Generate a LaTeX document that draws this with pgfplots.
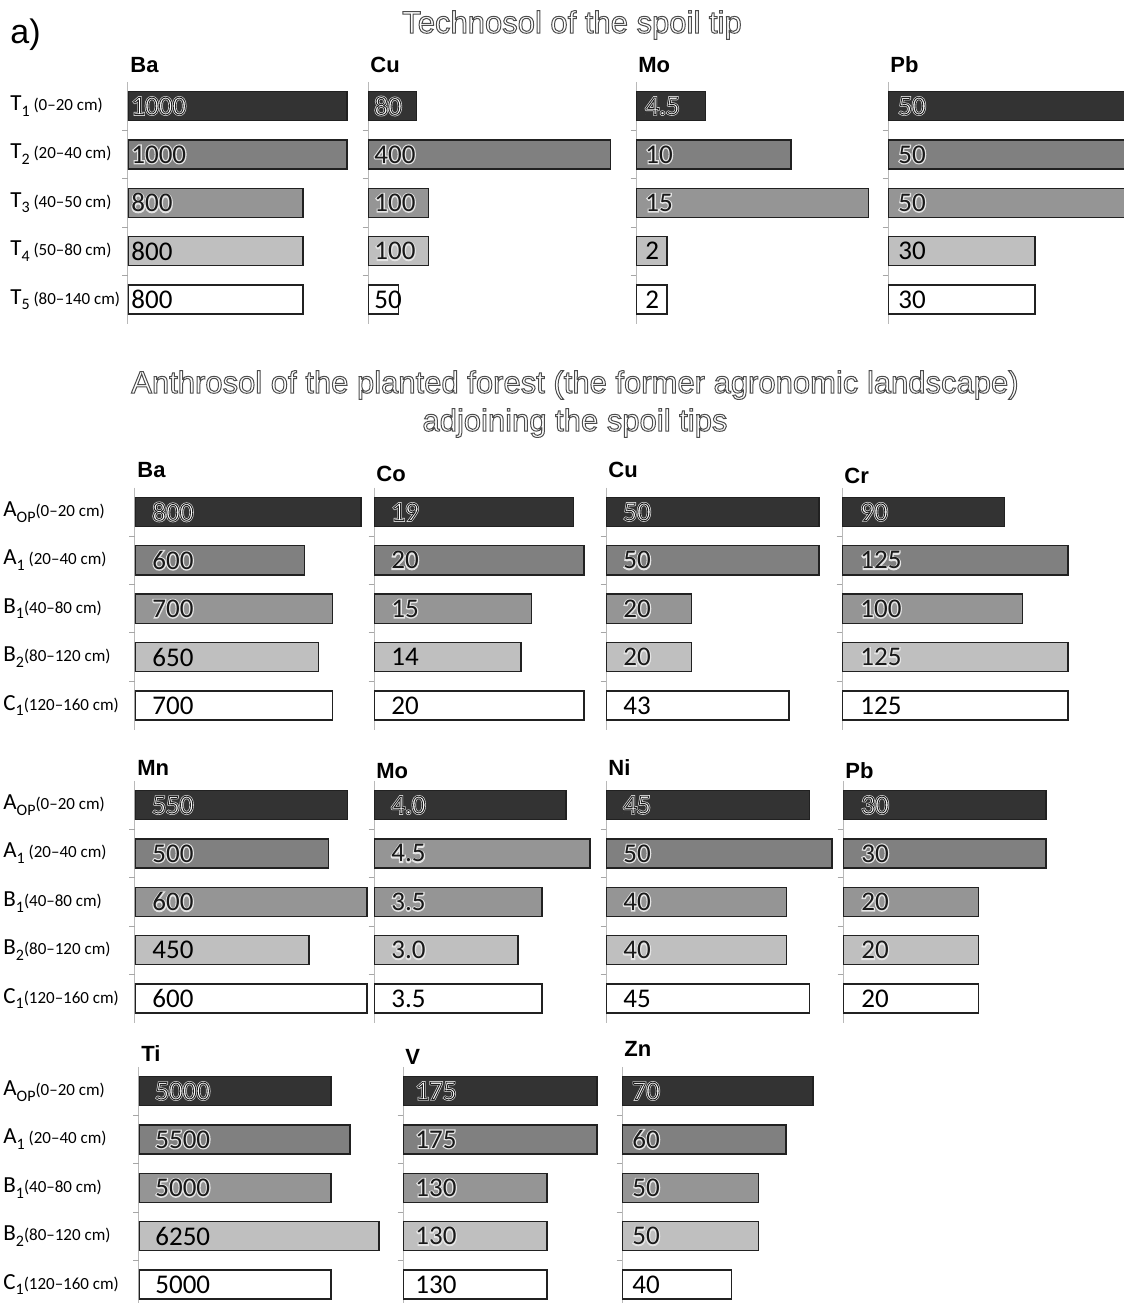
\documentclass[border=0pt]{standalone}
\usepackage{fontspec}
\setmainfont{Carlito}
\newfontfamily\arial{Liberation Sans}
\usepackage{pgfplots}
\pgfplotsset{compat=1.18}

\definecolor{c1}{gray}{0.2}
\definecolor{c2}{gray}{0.5}
\definecolor{c3}{gray}{0.585}
\definecolor{c4}{gray}{0.75}
\definecolor{c5}{gray}{1}
\definecolor{edge}{gray}{0.13}
\definecolor{halo}{gray}{0.88}
\definecolor{txt}{gray}{0.1}

\newcommand\outl[1]{\makebox[0pt][l]{\color{halo}\special{pdf:literal direct 2 Tr 1.1 w 0.88 G}#1\special{pdf:literal direct 0 Tr}}\special{pdf:literal direct 2 Tr 0.45 w 0.12 G}#1\special{pdf:literal direct 0 Tr}}
\newcommand\glow[1]{\makebox[0pt][l]{\color{halo}\special{pdf:literal direct 2 Tr 1.2 w 0.9 G}#1\special{pdf:literal direct 0 Tr}}#1}
\newcommand\outt[1]{\special{pdf:literal direct 2 Tr 0.5 w 0.3 G}#1\special{pdf:literal direct 0 Tr}}
\newcommand\lab[3]{{\fontsize{11.5}{12}\selectfont #1}\raisebox{-0.6ex}{\fontsize{8}{9}\selectfont #2}{\fontsize{8.5}{10}\selectfont #3}}

\pgfplotsset{
  panel/.style n args={4}{%
    at={(#1*0.5pt,-#2*0.5pt)}, anchor=north west,
    scale only axis, width=#3, height=121pt,
    xmin=0, xmax=#4, ymin=0.5, ymax=5.5, y dir=reverse,
    hide x axis, axis y line*=left,
    y axis line style={gray!55, line width=0.5pt},
    ytick={1,2,3,4,5}, yticklabels={},
    major tick length=0pt,
    extra y ticks={1.5,2.5,3.5,4.5}, extra y tick labels={},
    extra y tick style={major tick length=2.75pt, tick align=outside,
      tick style={gray!70, line width=0.5pt}},
    title style={at={(0,1)}, anchor=base west, inner sep=0pt, xshift=1pt,
      font=\arial\bfseries\fontsize{11}{12}\selectfont},
  },
  tys/.style={title style={yshift=#1-6pt}},
  lbloff/.style={every node near coord/.append style={xshift=#1}},
  tlabels/.style={yticklabel style={anchor=west, inner sep=0pt, xshift=#1}},
  bb/.style={xbar, bar width=0.6, bar shift=0pt, draw=edge, line width=0.7pt},
  lblA/.style={draw=none, nodes near coords={\outl{\pgfplotspointmeta}},
    point meta=explicit symbolic,
    nodes near coords style={anchor=west, inner sep=0pt,
      font=\fontsize{13.5}{14}\selectfont, text=white}},
  lblG/.style={draw=none, nodes near coords={\glow{\pgfplotspointmeta}},
    point meta=explicit symbolic,
    nodes near coords style={anchor=west, inner sep=0pt,
      font=\fontsize{13.5}{14}\selectfont, text=txt}},
  lblB/.style={draw=none, nodes near coords={\pgfplotspointmeta},
    point meta=explicit symbolic,
    nodes near coords style={anchor=west, inner sep=0pt,
      font=\fontsize{13.5}{14}\selectfont, text=black}},
  r4/.style={lblB},
  f2/.style={fill=c2},
  out4/.style={r4/.style={lblG}},
}

\newcommand\bars[5]{%
  \addplot[bb, fill=c1] coordinates {(#1,1)};
  \addplot[bb, f2] coordinates {(#2,2)};
  \addplot[bb, fill=c3] coordinates {(#3,3)};
  \addplot[bb, fill=c4] coordinates {(#4,4)};
  \addplot[bb, fill=c5] coordinates {(#5,5)};
  \addplot[lblA] coordinates {(0,1)[#1]};
  \addplot[lblG] coordinates {(0,2)[#2] (0,3)[#3]};
  \addplot[r4] coordinates {(0,4)[#4]};
  \addplot[lblB] coordinates {(0,5)[#5]};
}

\begin{document}
\begin{tikzpicture}
\useasboundingbox (0,0) rectangle (562pt,-651.5pt);
\clip (0,0) rectangle (562pt,-651.5pt);

\node[anchor=west, font=\arial\fontsize{17}{18}\selectfont, inner sep=0pt] at (5pt,-17.5pt) {a)};
\node[font=\arial\fontsize{15.5}{18}\selectfont, text=white, inner sep=0pt] at (286pt,-12.5pt) {\outt{Technosol of the spoil tip}};
\node[font=\arial\fontsize{15.5}{18}\selectfont, text=white, inner sep=0pt] at (287.5pt,-192.5pt) {\outt{Anthrosol of the planted forest (the former agronomic landscape)}};
\node[font=\arial\fontsize{15.5}{18}\selectfont, text=white, inner sep=0pt] at (287.5pt,-211.5pt) {\outt{adjoining the spoil tips}};

% ---------------- Technosol ----------------
\begin{axis}[panel={128}{81.8}{120.45pt}{1100}, title={Ba}, tys=4.5pt, lbloff=1.5pt,
  tlabels=-59pt,
  yticklabels={\lab{T}{1}{\ (0–20 cm)}, \lab{T}{2}{\ (20–40 cm)}, \lab{T}{3}{\ (40–50 cm)}, \lab{T}{4}{\ (50–80 cm)}, \lab{T}{5}{\ (80–140 cm)}}]
\bars{1000}{1000}{800}{800}{800}
\end{axis}
\begin{axis}[panel={368}{81.8}{133.5pt}{440}, title={Cu}, tys=4.5pt, lbloff=3pt, out4]
\bars{80}{400}{100}{100}{50}
\end{axis}
\begin{axis}[panel={636}{81.8}{124pt}{16}, title={Mo}, tys=4.5pt, lbloff=4.5pt]
\bars{4.5}{10}{15}{2}{2}
\end{axis}
\begin{axis}[panel={888}{81.8}{134.75pt}{55}, title={Pb}, tys=4.5pt, lbloff=5pt]
\bars{50}{50}{50}{30}{30}
\end{axis}

% ---------------- Anthrosol row 1 ----------------
\begin{axis}[panel={135}{487.7}{120pt}{850}, title={Ba}, tys=4.9pt, lbloff=8.5pt,
  tlabels=-66pt,
  yticklabels={\lab{A}{OP}{(0–20 cm)}, \lab{A}{1}{\ (20–40 cm)}, \lab{B}{1}{(40–80 cm)}, \lab{B}{2}{(80–120 cm)}, \lab{C}{1}{(120–160 cm)}}]
\bars{800}{600}{700}{650}{700}
\end{axis}
\begin{axis}[panel={374}{487.7}{110.25pt}{21}, title={Co}, tys=3.3pt, lbloff=8.5pt]
\bars{19}{20}{15}{14}{20}
\end{axis}
\begin{axis}[panel={606}{487.7}{110.76pt}{52}, title={Cu}, tys=4.9pt, lbloff=8.5pt, out4]
\bars{50}{50}{20}{20}{43}
\end{axis}
\begin{axis}[panel={842}{487.7}{117.5pt}{130}, title={Cr}, tys=2pt, lbloff=9pt, out4]
\bars{90}{125}{100}{125}{125}
\end{axis}

% ---------------- Anthrosol row 2 ----------------
\begin{axis}[panel={135}{780.8}{119.9pt}{620}, title={Mn}, tys=2.9pt, lbloff=8.5pt,
  tlabels=-66pt,
  yticklabels={\lab{A}{OP}{(0–20 cm)}, \lab{A}{1}{\ (20–40 cm)}, \lab{B}{1}{(40–80 cm)}, \lab{B}{2}{(80–120 cm)}, \lab{C}{1}{(120–160 cm)}}]
\bars{550}{500}{600}{450}{600}
\end{axis}
\begin{axis}[panel={374}{780.8}{112.8pt}{4.7}, title={Mo}, tys=1.4pt, lbloff=8.5pt, out4,
  f2/.style={fill=c3}]
\bars{4.0}{4.5}{3.5}{3.0}{3.5}
\end{axis}
\begin{axis}[panel={606}{780.8}{117.5pt}{52}, title={Ni}, tys=2.9pt, lbloff=8.5pt, out4]
\bars{45}{50}{40}{40}{45}
\end{axis}
\begin{axis}[panel={843}{780.8}{108.3pt}{32}, title={Pb}, tys=1.4pt, lbloff=9pt, out4]
\bars{30}{30}{20}{20}{20}
\end{axis}

% ---------------- Anthrosol row 3 ----------------
\begin{axis}[panel={139}{1066.8}{124.8pt}{6500}, title={Ti}, tys=2.9pt, lbloff=8pt,
  tlabels=-68pt,
  yticklabels={\lab{A}{OP}{(0–20 cm)}, \lab{A}{1}{\ (20–40 cm)}, \lab{B}{1}{(40–80 cm)}, \lab{B}{2}{(80–120 cm)}, \lab{C}{1}{(120–160 cm)}}]
\bars{5000}{5500}{5000}{6250}{5000}
\end{axis}
\begin{axis}[panel={403}{1066.8}{99.8pt}{180}, title={V}, tys=1.4pt, lbloff=6pt, out4]
\bars{175}{175}{130}{130}{130}
\end{axis}
\begin{axis}[panel={622}{1066.8}{98.3pt}{72}, title={Zn}, tys=5.4pt, lbloff=5pt, out4]
\bars{70}{60}{50}{50}{40}
\end{axis}
\end{tikzpicture}
\end{document}
